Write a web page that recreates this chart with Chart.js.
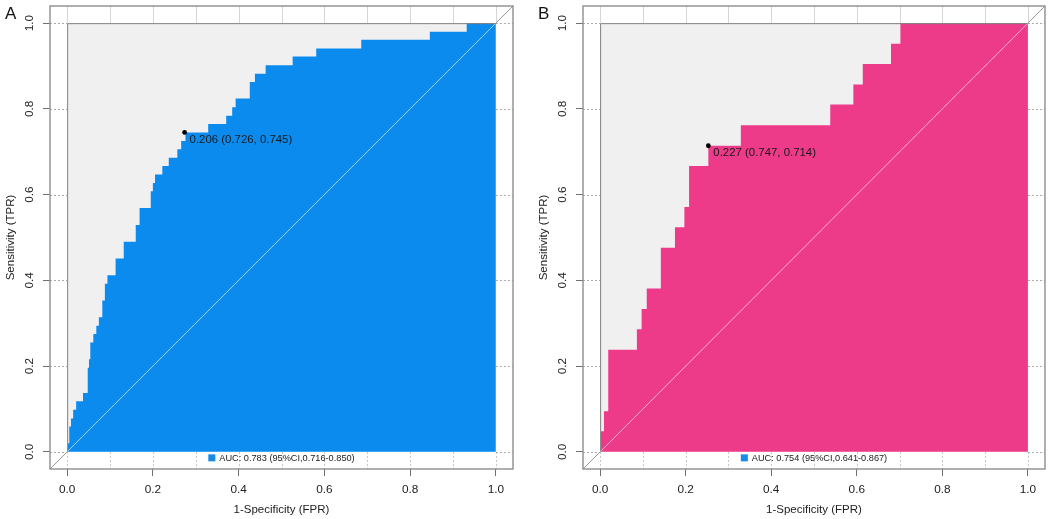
<!DOCTYPE html>
<html><head><meta charset="utf-8">
<script src="https://cdn.jsdelivr.net/npm/chart.js@4.4.1/dist/chart.umd.min.js"></script>
<style>
html,body{margin:0;padding:0;background:#fff;overflow:hidden;width:1049px;height:519px;}
#a{position:absolute;left:0;top:0;}
#b{position:absolute;left:533px;top:0;}
</style></head><body>
<canvas id="a" width="524" height="519"></canvas>
<canvas id="b" width="516" height="519"></canvas>
<script>
// ---- data ----
const axisMin = -0.04, axisMax = 1.04;
const xGridTicks = [0, 0.1, 0.2, 0.3, 0.4, 0.5, 0.6, 0.7, 0.8, 0.9, 1.0];
const majorTicks = [0, 0.2, 0.4, 0.6, 0.8, 1.0];
const tickLabels = ['0.0', '0.2', '0.4', '0.6', '0.8', '1.0'];

const fprA = [0, 0.002, 0.005, 0.009, 0.014, 0.021, 0.037, 0.048, 0.051, 0.054, 0.061, 0.068, 0.074, 0.082, 0.088, 0.094, 0.113, 0.132, 0.160, 0.169, 0.195, 0.200, 0.205, 0.222, 0.237, 0.257, 0.266, 0.276, 0.329, 0.371, 0.385, 0.393, 0.426, 0.438, 0.463, 0.526, 0.581, 0.686, 0.846, 0.932, 1.0];
const tprA = [0, 0.020, 0.059, 0.078, 0.098, 0.118, 0.137, 0.196, 0.216, 0.255, 0.275, 0.294, 0.314, 0.353, 0.392, 0.412, 0.451, 0.490, 0.529, 0.569, 0.608, 0.627, 0.647, 0.667, 0.686, 0.706, 0.725, 0.745, 0.765, 0.784, 0.804, 0.824, 0.863, 0.882, 0.902, 0.922, 0.941, 0.961, 0.980, 1.0, 1.0];
const cutoffA = [0.274, 0.745];
const cutoffLabelA = '0.206 (0.726, 0.745)';
const aucLabelA = 'AUC: 0.783 (95%CI,0.716-0.850)';

const fprB = [0, 0.002, 0.009, 0.019, 0.086, 0.097, 0.109, 0.142, 0.175, 0.197, 0.208, 0.253, 0.329, 0.538, 0.592, 0.614, 0.680, 0.702, 1.0];
const tprB = [0, 0.048, 0.095, 0.238, 0.286, 0.333, 0.381, 0.476, 0.524, 0.571, 0.667, 0.714, 0.762, 0.810, 0.857, 0.905, 0.952, 1.0, 1.0];
const cutoffB = [0.253, 0.714];
const cutoffLabelB = '0.227 (0.747, 0.714)';
const aucLabelB = 'AUC: 0.754 (95%CI,0.641-0.867)';

const diagonal = [axisMin, 0, 1, axisMax];
const panelEdge = [0, 1];

const FONT = '"Liberation Sans", Arial, Helvetica, sans-serif';

function makeChart(id, fpr, tpr, cutoff, cutLabel, aucLabel, fillColor, letter, padRight) {
  const decor = {
    id: 'decor' + id,
    beforeDatasetsDraw(chart) {
      const {ctx, chartArea: ca, scales: {x, y}} = chart;
      const x0 = x.getPixelForValue(0), x1 = x.getPixelForValue(1);
      const y0 = y.getPixelForValue(0), y1 = y.getPixelForValue(1);
      ctx.save();
      ctx.lineWidth = 1;
      // top strip: light solid lines
      ctx.strokeStyle = '#d6d6d6';
      xGridTicks.forEach(v => {
        const px = Math.round(x.getPixelForValue(v)) + 0.5;
        ctx.beginPath(); ctx.moveTo(px, ca.top); ctx.lineTo(px, y1); ctx.stroke();
      });
      // bottom strip: dotted lines
      ctx.setLineDash([2, 2]);
      ctx.strokeStyle = '#c4c4c4';
      xGridTicks.forEach(v => {
        const px = Math.round(x.getPixelForValue(v)) + 0.5;
        ctx.beginPath(); ctx.moveTo(px, y0); ctx.lineTo(px, ca.bottom); ctx.stroke();
      });
      // side strips: dotted lines at major ticks
      ctx.strokeStyle = '#a8a8a8';
      majorTicks.forEach(v => {
        const py = Math.round(y.getPixelForValue(v)) + 0.5;
        ctx.beginPath(); ctx.moveTo(ca.left, py); ctx.lineTo(x0, py); ctx.stroke();
        ctx.beginPath(); ctx.moveTo(x1, py); ctx.lineTo(ca.right, py); ctx.stroke();
      });
      ctx.restore();
    },
    afterDatasetsDraw(chart) {
      const {ctx, chartArea: ca, scales: {x, y}} = chart;
      const x0 = x.getPixelForValue(0), x1 = x.getPixelForValue(1);
      const y0 = y.getPixelForValue(0), y1 = y.getPixelForValue(1);
      ctx.save();
      // inner panel border (left, top)
      ctx.strokeStyle = '#808080'; ctx.lineWidth = 1;
      ctx.beginPath(); ctx.moveTo(x0 + 0.5, y0); ctx.lineTo(x0 + 0.5, y1 + 0.5); ctx.lineTo(x1, y1 + 0.5); ctx.stroke();
      // outer box
      ctx.strokeStyle = '#8e8e8e'; ctx.lineWidth = 1.4;
      ctx.strokeRect(ca.left, ca.top, ca.right - ca.left, ca.bottom - ca.top);
      // cutoff label
      const px = x.getPixelForValue(cutoff[0]), py = y.getPixelForValue(cutoff[1]);
      ctx.fillStyle = '#1a1a1a';
      ctx.font = '11.4px ' + FONT;
      ctx.textAlign = 'left'; ctx.textBaseline = 'middle';
      ctx.fillText(cutLabel, px + 5, py + 7);
      // legend
      ctx.font = '9.2px ' + FONT;
      const tw = ctx.measureText(aucLabel).width;
      const total = 7 + 4 + tw;
      const cx = x.getPixelForValue(0.5);
      const sx = cx - total / 2;
      const ly = y0 + 6;
      ctx.fillStyle = '#1a8ae8';
      ctx.fillRect(sx, ly - 3.5, 7, 7);
      ctx.fillStyle = '#1a1a1a';
      ctx.fillText(aucLabel, sx + 11, ly + 0.5);
      // tick labels
      ctx.fillStyle = '#222';
      ctx.font = '11.8px ' + FONT;
      ctx.textAlign = 'center'; ctx.textBaseline = 'middle';
      majorTicks.forEach((v, i) => {
        ctx.fillText(tickLabels[i], x.getPixelForValue(v), ca.bottom + 21);
      });
      majorTicks.forEach((v, i) => {
        ctx.save();
        ctx.translate(ca.left - 20.5, y.getPixelForValue(v));
        ctx.rotate(-Math.PI / 2);
        ctx.fillText(tickLabels[i], 0, 0);
        ctx.restore();
      });
      // axis titles
      ctx.font = '11.5px ' + FONT;
      ctx.fillText('1-Specificity (FPR)', x.getPixelForValue(0.5), ca.bottom + 41);
      ctx.save();
      ctx.translate(ca.left - 39, y.getPixelForValue(0.5));
      ctx.rotate(-Math.PI / 2);
      ctx.fillText('Sensitivity (TPR)', 0, 0);
      ctx.restore();
      // panel letter
      ctx.font = '17px ' + FONT;
      ctx.fillStyle = '#111';
      ctx.textAlign = 'left'; ctx.textBaseline = 'alphabetic';
      ctx.fillText(letter, 5, 19);
      ctx.restore();
    }
  };

  return new Chart(document.getElementById(id), {
    type: 'line',
    data: {
      datasets: [
        {
          type: 'scatter',
          data: [{x: cutoff[0], y: cutoff[1]}],
          pointRadius: 2.4, pointBackgroundColor: '#000', pointBorderWidth: 0,
          showLine: false
        },
        {
          data: diagonal.map(v => ({x: v, y: v})),
          borderWidth: 1, pointRadius: 0, fill: false,
          segment: { borderColor: c => (c.p0DataIndex === 1 ? 'rgba(255,255,255,0.6)' : '#9a9a9a') }
        },
        {
          data: fpr.map((v, i) => ({x: v, y: tpr[i]})),
          stepped: 'before', borderWidth: 0, borderColor: 'rgba(0,0,0,0)',
          pointRadius: 0, fill: 'origin', backgroundColor: fillColor
        },
        {
          data: panelEdge.map(v => ({x: v, y: 1})),
          borderWidth: 0, borderColor: 'rgba(0,0,0,0)',
          pointRadius: 0, fill: 'origin', backgroundColor: '#f0f0f0'
        }
      ]
    },
    options: {
      responsive: false, animation: false,
      layout: { padding: { top: 6, right: padRight, left: 0, bottom: 0 } },
      plugins: { legend: { display: false }, tooltip: { enabled: false } },
      scales: {
        x: {
          type: 'linear', min: axisMin, max: axisMax,
          afterBuildTicks: s => { s.ticks = xGridTicks.map(v => ({value: v})); },
          afterFit: s => { s.height = 50; },
          ticks: { display: false },
          border: { display: false },
          grid: {
            drawOnChartArea: false,
            tickLength: 7,
            tickColor: c => (majorTicks.some(m => Math.abs(m - c.tick.value) < 1e-9) ? '#707070' : 'rgba(0,0,0,0)')
          }
        },
        y: {
          type: 'linear', min: axisMin, max: axisMax,
          afterBuildTicks: s => { s.ticks = majorTicks.map(v => ({value: v})); },
          afterFit: s => { s.width = 50; },
          ticks: { display: false },
          border: { display: false },
          grid: { drawOnChartArea: false, tickLength: 7, tickColor: '#707070' }
        }
      }
    },
    plugins: [decor]
  });
}

makeChart('a', fprA, tprA, cutoffA, cutoffLabelA, aucLabelA, '#0c8bef', 'A', 11);
makeChart('b', fprB, tprB, cutoffB, cutoffLabelB, aucLabelB, '#ed3a89', 'B', 3);
</script>
</body></html>
